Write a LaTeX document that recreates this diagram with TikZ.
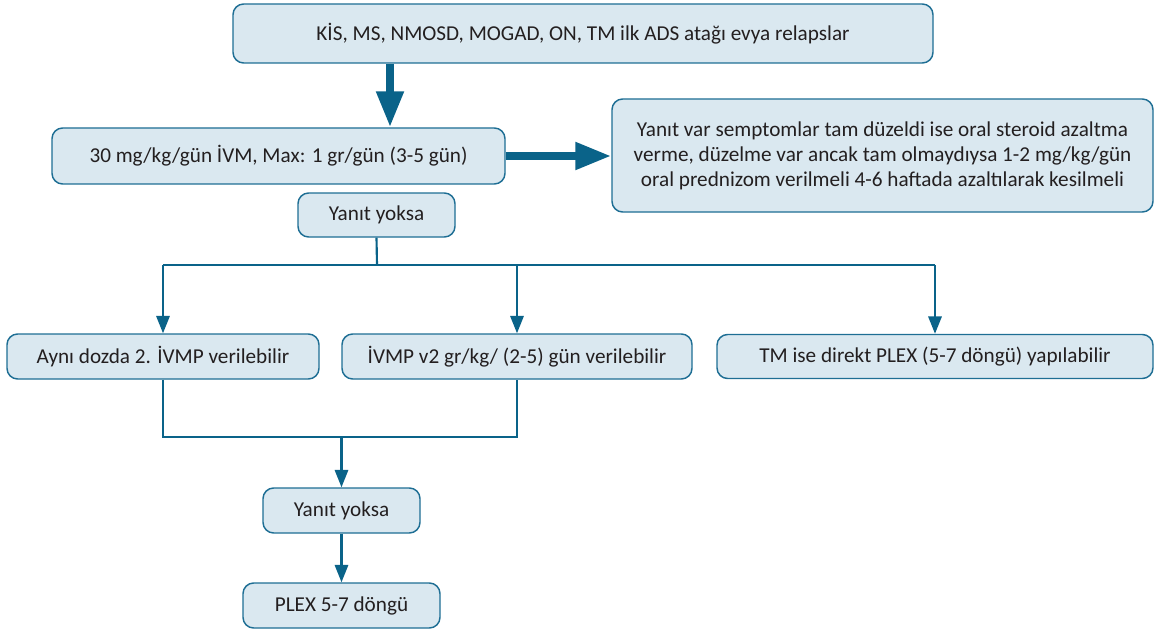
\documentclass[tikz,border=0pt]{standalone}
\usepackage{fontspec}
\setmainfont{Carlito}
\usetikzlibrary{arrows.meta}
\definecolor{boxfill}{RGB}{218,232,240}
\definecolor{boxline}{RGB}{30,110,148}
\definecolor{arrowblue}{RGB}{10,99,137}
\definecolor{textgray}{RGB}{35,31,32}
\tikzset{
  flowbox/.style={draw=boxline, line width=1.1pt, fill=boxfill, rounded corners=8pt, text=textgray,
    font=\fontsize{15.9}{18.8}\selectfont, align=center, inner sep=0pt},
  thinline/.style={draw=arrowblue, line width=1.6pt},
  thinarrow/.style={thinline, -{Triangle[length=13pt,width=10pt]}},
  bigarrow/.style={draw=arrowblue, line width=6pt, -{Triangle[length=27pt,width=19.5pt]}},
}
\begin{document}
\begin{tikzpicture}[x=0.75pt,y=0.75pt,yscale=-1,xscale=1]
\useasboundingbox (0,0) rectangle (1156,631);

% Text Node
\node [flowbox, minimum width=525pt, minimum height=44.25pt] (top) at (583,33.5) {KİS, MS, NMOSD, MOGAD, ON, TM ilk ADS atağı evya relapslar};
% Text Node
\node [flowbox, minimum width=339.75pt, minimum height=42pt] (dose) at (278.5,156) {30 mg/kg/gün İVM, Max: 1 gr/gün (3-5 gün)};
% Text Node
\node [flowbox, minimum width=405.75pt, minimum height=84.75pt] (resp) at (882.5,155.5) {Yanıt var semptomlar tam düzeldi ise oral steroid azaltma\\verme, düzelme var ancak tam olmaydıysa 1-2 mg/kg/gün\\oral prednizom verilmeli 4-6 haftada azaltılarak kesilmeli};
% Text Node
\node [flowbox, minimum width=117.75pt, minimum height=33pt] (noresp) at (376.5,215) {Yanıt yoksa};
% Text Node
\node [flowbox, minimum width=234pt, minimum height=33.75pt] (same) at (163,356.5) {Aynı dozda 2. İVMP verilebilir};
% Text Node
\node [flowbox, minimum width=262.5pt, minimum height=33.75pt] (ivmp) at (517,356.5) {İVMP v2 gr/kg/ (2-5) gün verilebilir};
% Text Node
\node [flowbox, minimum width=327pt, minimum height=33pt] (tmplex) at (935,356.5) {TM ise direkt PLEX (5-7 döngü) yapılabilir};
% Text Node
\node [flowbox, minimum width=117.75pt, minimum height=33.75pt] (noresptwo) at (341.5,510.5) {Yanıt yoksa};
% Text Node
\node [flowbox, minimum width=147.75pt, minimum height=33.75pt] (plex) at (341.5,605.5) {PLEX 5-7 döngü};

\coordinate (branch) at (377,265);
\coordinate (join) at (341.5,437);

%Thick Arrows
\draw [bigarrow] (top.south -| 390,0) -- (dose.north -| 390,0);
\draw [bigarrow] (dose.east) -- (dose.east -| resp.west);

%Straight Lines
\draw [thinline] (noresp.south) -- (branch);
\draw [thinline] (same.north |- branch) -- (tmplex.north |- branch);
\draw [thinarrow] (same.north |- branch) -- (same.north);
\draw [thinarrow] (ivmp.north |- branch) -- (ivmp.north);
\draw [thinarrow] (tmplex.north |- branch) -- (tmplex.north);
%Straight Lines
\draw [thinline] (same.south) -- (same.south |- join) -- (ivmp.south |- join) -- (ivmp.south);
\draw [thinarrow] (join) -- (noresptwo.north);
\draw [thinarrow] (noresptwo.south) -- (plex.north);

\end{tikzpicture}
\end{document}
